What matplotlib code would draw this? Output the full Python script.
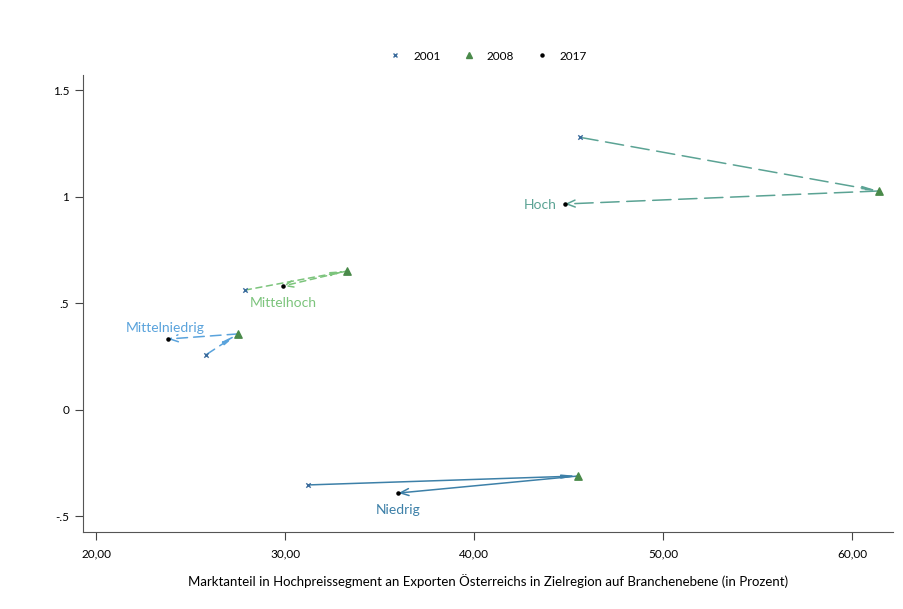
import numpy as np
import matplotlib.pyplot as plt
from matplotlib.lines import Line2D

plt.rcParams['font.family'] = ['Lato', 'DejaVu Sans']

# market share (x) and value (y) per segment for 2001, 2008, 2017
segments = ['Hoch', 'Mittelhoch', 'Mittelniedrig', 'Niedrig']
x2001 = [45.6, 27.9, 25.8, 31.2]
y2001 = [1.28, 0.563, 0.258, -0.352]
x2008 = [61.4, 33.3, 27.5, 45.5]
y2008 = [1.028, 0.653, 0.357, -0.31]
x2017 = [44.8, 29.9, 23.8, 36.0]
y2017 = [0.967, 0.582, 0.333, -0.39]

seg_colors = ['#5ba394', '#7cc47c', '#5aa3dc', '#3d80a8']
seg_dashes = [(0, (12, 5)), (0, (4, 3)), (0, (7, 4)), 'solid']
label_offsets = [(-6, -1), (0, -12), (-2, 8), (0, -12)]
label_ha = ['right', 'center', 'center', 'center']

xticks = [20, 30, 40, 50, 60]
yticks = [-0.5, 0, 0.5, 1, 1.5]
ytick_labels = ['-.5', '0', '.5', '1', '1.5']

fig = plt.figure(figsize=(9.04, 6.09), dpi=100)
ax = fig.add_axes([0.0918, 0.1264, 0.8962, 0.7506])

for i, seg in enumerate(segments):
    c = seg_colors[i]
    # 2001 -> 2008 (head mostly hidden behind the triangle)
    ax.annotate('', xy=(x2008[i], y2008[i]), xytext=(x2001[i], y2001[i]),
                arrowprops=dict(arrowstyle='-|>,head_length=0.8,head_width=0.1',
                                color=c, lw=1.1, linestyle=seg_dashes[i],
                                shrinkA=0, shrinkB=0))
    # 2008 -> 2017
    ax.annotate('', xy=(x2017[i], y2017[i]), xytext=(x2008[i], y2008[i]),
                arrowprops=dict(arrowstyle='->,head_length=0.6,head_width=0.25',
                                color=c, lw=1.1, linestyle=seg_dashes[i],
                                shrinkA=0, shrinkB=0))
    ax.annotate(seg, xy=(x2017[i], y2017[i]), xytext=label_offsets[i],
                textcoords='offset points', ha=label_ha[i], va='center',
                color=c, fontsize=10)

ax.scatter(x2001, y2001, marker='x', s=10, color='#3a6b9c', lw=1.0, zorder=5)
ax.scatter(x2008, y2008, marker='^', s=28, color='#4a8a4a', zorder=5)
ax.scatter(x2017, y2017, marker='o', s=5, color='black', zorder=5)

ax.set_xlim(19.31, 62.17)
ax.set_ylim(-0.573, 1.573)
ax.set_xticks(xticks)
ax.set_xticklabels([f'{t},00' for t in xticks])
ax.set_yticks(yticks)
ax.set_yticklabels(ytick_labels)
ax.tick_params(axis='both', labelsize=8.5, color='#444444', length=6)
ax.tick_params(axis='y', pad=4)
ax.tick_params(axis='x', pad=6)
for side in ['top', 'right']:
    ax.spines[side].set_visible(False)
for side in ['left', 'bottom']:
    ax.spines[side].set_color('#555555')

ax.set_xlabel('Marktanteil in Hochpreissegment an Exporten Österreichs in Zielregion auf Branchenebene (in Prozent)',
              fontsize=9.5, labelpad=10)

handles = [
    Line2D([], [], marker='x', color='#3a6b9c', ls='', markersize=3.5, mew=1.0),
    Line2D([], [], marker='^', color='#4a8a4a', ls='', markersize=5),
    Line2D([], [], marker='o', color='black', ls='', markersize=2.2),
]
fig.legend(handles, ['2001', '2008', '2017'], loc='center', bbox_to_anchor=(0.537, 0.908),
           ncol=3, frameon=False, fontsize=8.5, handletextpad=0.5, columnspacing=1.4)

fig.savefig('out.png', dpi=100)
